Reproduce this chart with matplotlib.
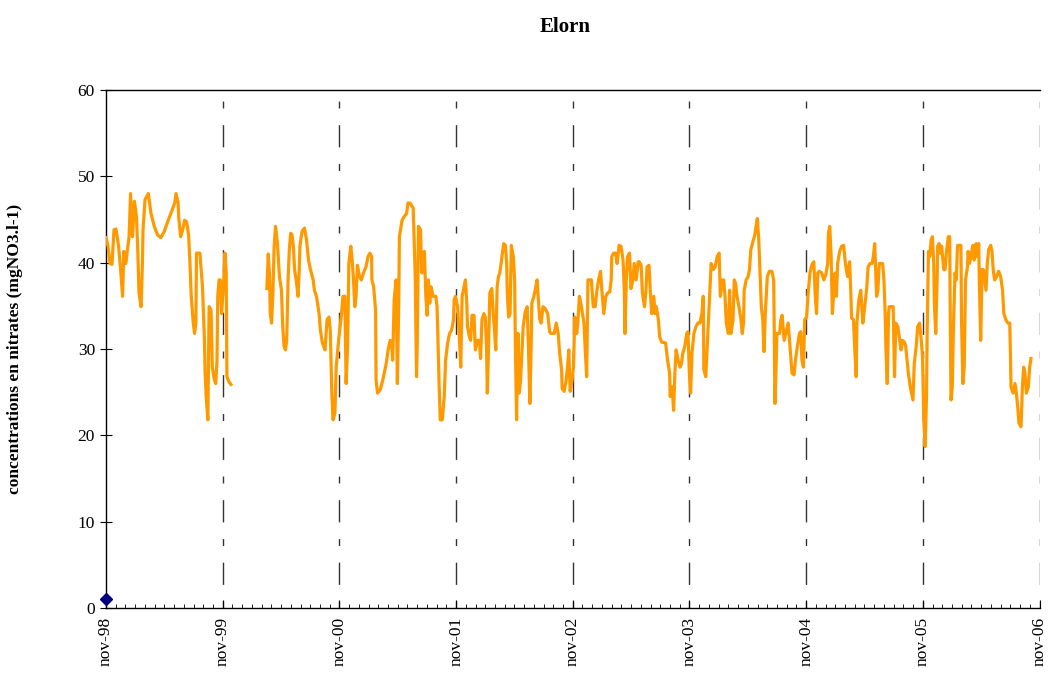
import numpy as np
import matplotlib.pyplot as plt

# months counted from nov-98; NaN marks the gap in sampling (winter 1999-2000)
months = [
    0.00, 0.20, 0.41, 0.61, 0.82, 1.02, 1.29, 1.50, 1.70, 1.83, 2.04, 2.24, 2.37, 2.52, 2.72,
    2.92, 3.13, 3.26, 3.39, 3.60, 3.74, 3.80, 4.01, 4.35, 4.62, 4.96, 5.30, 5.64, 5.98, 6.39,
    6.80, 7.06, 7.20, 7.41, 7.47, 7.67, 7.88, 8.08, 8.29, 8.49, 8.63, 8.76, 8.97, 9.10, 9.24,
    9.30, 9.65, 9.92, 10.12, 10.19, 10.32, 10.47, 10.60, 10.80, 10.93, 11.14, 11.28, 11.41,
    11.49, 11.62, 11.75, 11.89, 12.10, 12.23, 12.36, 12.43, 12.64, 12.84,
    14.5,
    16.54, 16.68, 16.82, 16.89, 17.02, 17.15, 17.29, 17.43, 17.63, 17.83, 18.04, 18.17, 18.31,
    18.45, 18.58, 18.72, 18.85, 18.99, 19.13, 19.26, 19.39, 19.60, 19.74, 19.87, 19.94, 20.15,
    20.41, 20.62, 20.82, 21.02, 21.30, 21.43, 21.64, 21.91, 22.04, 22.25, 22.52, 22.73, 22.93,
    23.06, 23.21, 23.34, 23.54, 23.67, 23.95, 24.22, 24.36, 24.56, 24.69, 24.84, 24.97, 25.17,
    25.31, 25.45, 25.58, 25.71, 25.85, 26.06, 26.26, 26.47, 26.73, 26.94, 27.14, 27.31, 27.34,
    27.52, 27.72, 27.77, 27.92, 28.20, 28.46, 28.81, 29.01, 29.22, 29.35, 29.48, 29.63, 29.83,
    29.96, 30.10, 30.17, 30.44, 30.64, 30.91, 31.05, 31.26, 31.59, 31.80, 31.93, 32.00, 32.13,
    32.34, 32.48, 32.61, 32.74, 32.89, 33.02, 33.15, 33.29, 33.43, 33.63, 33.91, 34.04, 34.11,
    34.24, 34.37, 34.58, 34.78, 34.92, 35.13, 35.33, 35.54, 35.74, 35.80, 35.94, 36.15, 36.35,
    36.48, 36.62, 36.82, 36.96, 37.10, 37.17, 37.37, 37.50, 37.64, 37.84, 37.98, 38.19, 38.39,
    38.52, 38.66, 38.86, 39.00, 39.13, 39.21, 39.34, 39.47, 39.67, 39.82, 39.95, 40.08, 40.22,
    40.36, 40.49, 40.63, 40.76, 40.90, 41.07, 41.20, 41.27, 41.40, 41.55, 41.68, 41.88, 42.02,
    42.09, 42.22, 42.36, 42.49, 42.63, 42.77, 42.90, 43.11, 43.31, 43.44, 43.59, 43.72, 43.79,
    44.00, 44.20, 44.33, 44.46, 44.61, 44.74, 44.94, 45.15, 45.42, 45.62, 45.76, 46.09, 46.30,
    46.50, 46.65, 46.85, 46.91, 47.12, 47.32, 47.46, 47.59, 47.73, 47.93, 48.07, 48.21, 48.41,
    48.54, 48.68, 48.89, 49.15, 49.30, 49.43, 49.56, 49.91, 50.11, 50.31, 50.45, 50.65, 50.86,
    50.99, 51.19, 51.40, 51.60, 51.80, 51.95, 52.01, 52.21, 52.41, 52.56, 52.76, 52.96, 53.17,
    53.30, 53.37, 53.50, 53.64, 53.84, 53.98, 54.19, 54.32, 54.52, 54.73, 54.83, 55.03, 55.16,
    55.37, 55.51, 55.64, 55.84, 55.98, 56.12, 56.33, 56.46, 56.59, 56.80, 56.94, 57.14, 57.55,
    57.75, 57.96, 58.02, 58.22, 58.37, 58.50, 58.63, 58.83, 59.04, 59.18, 59.31, 59.52, 59.72,
    59.85, 59.99, 60.12, 60.26, 60.46, 60.67, 60.87, 61.07, 61.28, 61.42, 61.48, 61.68, 61.89,
    62.03, 62.16, 62.23, 62.44, 62.64, 62.85, 63.05, 63.18, 63.39, 63.52, 63.66, 63.79, 64.00,
    64.13, 64.27, 64.48, 64.61, 64.74, 64.89, 65.09, 65.30, 65.43, 65.56, 65.63, 65.83, 66.04,
    66.17, 66.31, 66.52, 66.72, 66.85, 66.98, 67.13, 67.26, 67.39, 67.54, 67.67, 67.80, 68.01,
    68.21, 68.48, 68.66, 68.72, 68.79, 68.92, 68.99, 69.27, 69.40, 69.53, 69.74, 69.94, 70.15,
    70.29, 70.42, 70.55, 70.76, 70.90, 71.10, 71.31, 71.44, 71.57, 71.72, 71.85, 72.05, 72.18,
    72.39, 72.53, 72.66, 72.79, 72.94, 73.07, 73.20, 73.35, 73.61, 73.82, 74.02, 74.22, 74.29,
    74.43, 74.57, 74.70, 74.83, 74.98, 75.11, 75.24, 75.45, 75.65, 75.86, 76.00, 76.13, 76.26,
    76.47, 76.61, 76.67, 76.87, 77.02, 77.15, 77.22, 77.42, 77.62, 77.83, 78.03, 78.24, 78.37,
    78.57, 78.78, 78.91, 79.05, 79.18, 79.25, 79.38, 79.52, 79.87, 80.00, 80.13, 80.20, 80.34,
    80.48, 80.54, 80.95, 81.09, 81.22, 81.43, 81.63, 81.76, 81.90, 82.11, 82.24, 82.51, 82.71,
    82.99, 83.12, 83.32, 83.47, 83.67, 83.84, 83.97, 84.10, 84.24, 84.38, 84.45, 84.51, 84.58,
    84.71, 84.85, 84.99, 85.12, 85.19, 85.33, 85.47, 85.53, 85.67, 85.81, 85.94, 86.15, 86.29,
    86.42, 86.62, 86.76, 86.83, 86.90, 87.03, 87.16, 87.31, 87.44, 87.57, 87.92, 87.98, 88.12,
    88.26, 88.39, 88.59, 88.66, 88.80, 89.00, 89.14, 89.28, 89.48, 89.61, 89.75, 89.81, 89.95,
    90.09, 90.22, 90.36, 90.50, 90.63, 90.77, 90.98, 91.11, 91.24, 91.38, 91.59, 91.79, 92.00,
    92.20, 92.33, 92.54, 92.74, 92.94, 93.01, 93.07, 93.28, 93.48, 93.62, 93.76, 93.89, 94.10,
    94.24, 94.37, 94.51, 94.65, 94.85, 94.99, 95.12,
]
nitrates = [
    42.9, 41.9, 39.9, 39.8, 43.8, 43.9, 41.9, 39.2, 36.1, 41.3, 39.9, 41.9, 43.0, 48.0, 43.0,
    47.1, 45.3, 41.5, 36.5, 34.9, 39.9, 43.8, 47.3, 48.0, 45.7, 44.2, 43.2, 42.9, 43.6, 44.9,
    46.1, 46.9, 48.0, 46.9, 45.3, 43.0, 43.8, 44.9, 44.7, 43.2, 39.9, 36.1, 33.0, 31.8, 33.0,
    41.1, 41.1, 37.2, 31.0, 27.2, 24.1, 21.8, 34.9, 34.5, 27.9, 26.4, 26.0, 28.7,
    36.1, 38.0, 38.0, 34.1, 38.0, 41.1, 38.8, 26.8, 26.2, 25.9,
    np.nan,
    37.0, 41.0, 38.4, 34.1, 33.0, 36.1, 41.9, 44.2, 42.2, 38.4, 36.8, 32.6, 30.3,
    29.9, 31.0, 38.0, 41.5, 43.4, 43.2, 41.9, 39.2, 37.6, 36.1, 39.2, 41.9, 43.6,
    44.0, 42.6, 40.3, 39.2, 38.0, 36.8, 36.1, 34.1, 32.2, 30.7, 29.9, 33.4, 33.7,
    32.2, 25.3, 21.8, 22.6, 27.9, 31.4, 34.1, 36.1, 36.1, 26.0, 30.3, 39.9, 41.9,
    40.3, 38.0, 34.9, 36.1, 39.7, 38.4, 38.0, 38.8, 39.5, 40.7, 41.1, 40.7, 38.0,
    37.2, 34.5, 26.4, 24.9, 25.3, 26.4, 28.3, 29.9, 31.0, 30.7, 28.7, 35.7, 38.0,
    26.0, 35.3, 43.0, 44.9, 45.3, 45.7, 46.9, 46.9, 46.3, 38.4, 26.8, 30.3, 44.2,
    43.8, 38.8, 41.1, 41.3, 36.1, 33.9, 38.0, 35.3, 37.2, 36.1, 36.1, 34.9, 32.2,
    26.4, 21.8, 21.8, 24.5, 28.7, 30.7, 31.8, 32.2, 33.4, 35.7, 36.1, 34.9, 31.0,
    27.9, 36.1, 37.2, 38.0, 35.3, 32.6, 31.4, 31.0, 33.9, 33.9, 29.9, 31.0, 31.0,
    28.9, 33.4, 34.1, 33.7, 30.3, 24.9, 30.3, 36.5, 37.0, 34.1, 32.2, 29.9, 37.2,
    38.4, 38.8, 39.9, 41.1, 42.2, 42.0, 39.9, 36.5, 33.7, 34.1, 42.0, 40.7, 38.0,
    31.0, 21.8, 31.8, 24.9, 26.4, 29.5, 32.6, 34.3, 34.9, 30.3, 23.7, 30.3, 35.3,
    36.1, 37.2, 38.0, 35.7, 33.4, 33.0, 34.9, 34.7, 34.1, 32.0, 31.8, 31.8, 33.0,
    31.8, 29.5, 27.6, 25.4, 25.1, 26.4, 27.9, 29.9, 25.1, 26.4, 27.9, 33.7, 31.8,
    33.4, 36.1, 34.9, 33.0, 29.5, 26.8, 38.0, 38.0, 34.9, 34.9, 36.5, 38.0, 39.0,
    36.8, 34.1, 36.1, 36.5, 36.6, 38.0, 40.7, 41.1, 41.1, 39.9, 42.0, 41.9, 40.3,
    36.8, 31.8, 38.0, 40.7, 41.1, 37.0, 38.0, 39.9, 38.0, 40.1, 40.1, 39.7, 36.5,
    34.9, 36.5, 39.5, 39.7, 36.5, 34.1, 36.1, 34.1, 34.9, 33.4, 31.4, 30.8, 30.7,
    28.7, 27.2, 24.5, 25.6, 22.9, 27.2, 29.9, 28.7, 27.9, 28.3, 29.5, 30.3, 31.8,
    32.0, 27.2, 24.9, 29.5, 31.8, 32.6, 33.0, 33.0, 34.1, 36.1, 27.6, 26.8, 31.8,
    35.3, 38.0, 39.9, 39.2, 39.5, 40.7, 41.1, 36.1, 38.0, 38.0, 36.1, 33.0, 31.8,
    36.8, 31.8, 33.4, 38.0, 37.6, 36.1, 34.9, 33.4, 31.8, 33.0, 36.8, 38.0, 38.4,
    39.2, 41.5, 42.4, 43.2, 44.2, 45.1, 42.6, 38.8, 34.9, 33.4, 29.7, 34.1, 38.4,
    39.0, 39.0, 38.0, 32.2, 23.7, 28.3, 31.8, 31.8, 33.4, 33.9, 31.0, 32.0, 33.0,
    31.0, 29.1, 27.2, 27.0, 28.7, 30.3, 31.8, 32.0, 28.7, 27.9, 33.4, 33.7, 36.1,
    38.8, 39.5, 39.9, 40.1, 36.1, 34.1, 38.8, 39.0, 38.8, 38.0, 38.6, 39.9, 43.4,
    44.2, 40.7, 34.1, 36.5, 38.8, 36.1, 39.9, 41.3, 41.9, 42.0, 40.3, 39.2, 38.4,
    40.1, 36.1, 33.6, 33.4, 29.5, 26.8, 33.0, 35.7, 36.8, 33.0, 34.9, 37.2, 39.5,
    39.9, 39.9, 40.7, 42.2, 38.4, 36.1, 36.8, 39.9, 39.9, 38.0, 34.1, 30.3, 26.0,
    34.1, 34.9, 34.9, 26.8, 33.0, 32.6, 31.0, 29.9, 31.0, 30.8, 30.3, 27.2, 25.6,
    24.1, 28.3, 30.3, 32.6, 33.0, 31.0, 29.1, 21.8, 18.7, 24.5, 32.2, 36.1, 41.3,
    40.7, 42.6, 43.0, 39.9, 35.3, 31.8, 38.0, 41.9, 42.2, 41.1, 41.9, 39.2, 39.2,
    41.1, 43.0, 43.0, 32.6, 24.1, 25.6, 33.0, 38.8, 38.0, 42.0, 42.0, 33.4, 26.0,
    27.9, 38.0, 39.5, 41.3, 39.9, 41.1, 42.0, 40.3, 42.2, 40.7, 42.2, 38.0, 31.0,
    39.2, 39.2, 38.0, 36.8, 39.9, 41.5, 42.0, 41.3, 39.2, 38.0, 38.4, 39.0, 38.4,
    36.8, 34.1, 33.4, 33.0, 33.0, 29.5, 25.6, 24.9, 26.0, 24.9, 23.3, 21.4, 21.0,
    25.6, 27.9, 27.2, 24.9, 25.6, 27.9, 28.9,
]
marker_month = [0]
marker_value = [1]
year_labels = ["nov-98", "nov-99", "nov-00", "nov-01", "nov-02",
               "nov-03", "nov-04", "nov-05", "nov-06"]

plt.rcParams['font.family'] = ['Liberation Serif', 'DejaVu Serif']

fig = plt.figure(figsize=(10.5, 6.81), dpi=100)
ax = fig.add_axes([0.101, 0.107, 0.889, 0.761])

years = np.arange(0, 97, 12)
for yr in years[1:]:
    ax.axvline(yr, color='#333333', lw=1.0, ls=(0, (5, 12, 16, 12)), zorder=1)

ax.plot(months, nitrates, color='#FF9900', lw=2.3, zorder=3)
ax.plot(marker_month, marker_value, ls='none', marker='D', ms=6,
        color='#000080', clip_on=False, zorder=4)

ax.set_xlim(0, 96)
ax.set_ylim(0, 60)
ax.set_xticks(years)
ax.set_xticklabels(year_labels, rotation=90, fontsize=12.5)
ax.set_xticks(np.arange(0, 97, 1), minor=True)
ax.set_yticks(np.arange(0, 61, 10))
ax.tick_params(axis='y', direction='inout', length=8, labelsize=12.5, pad=4)
ax.tick_params(axis='x', which='major', direction='in', length=6, pad=6)
ax.tick_params(axis='x', which='minor', direction='in', length=3)

ax.spines['right'].set_visible(False)
for s in ['left', 'bottom', 'top']:
    ax.spines[s].set_linewidth(1.0)

ax.set_ylabel("concentrations en nitrates (mgNO3.l-1)", fontsize=12.5,
              fontweight='bold', labelpad=39)
fig.text(0.538, 0.96, "Elorn", ha='center', va='center', fontsize=15,
         fontweight='bold')

fig.savefig("out.png", dpi=100)
